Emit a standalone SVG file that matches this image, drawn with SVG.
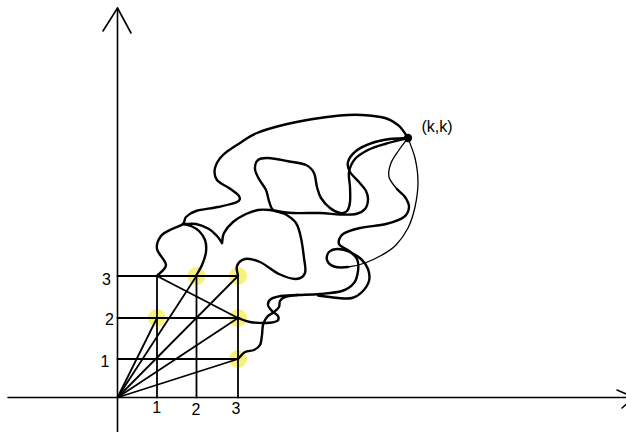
<svg xmlns="http://www.w3.org/2000/svg" width="626" height="432" viewBox="0 0 626 432">
<style>
.ax{stroke:#000;stroke-width:1.6;fill:none;stroke-linecap:round;stroke-linejoin:round}
.gr{stroke:#000;stroke-width:1.8;fill:none;stroke-linecap:round}
.cv{stroke:#000;stroke-width:2.4;fill:none;stroke-linecap:round;stroke-linejoin:round}
.th{stroke:#000;stroke-width:1.3;fill:none;stroke-linecap:round}
.hl{fill:#f7f27c}
.lb{font-family:"Liberation Sans",Arial,sans-serif;font-size:16px;fill:#000}
</style>
<rect width="626" height="432" fill="#fff"/>
<g id="highlights">
<circle class="hl" cx="157" cy="318" r="9"/>
<circle class="hl" cx="196.5" cy="276" r="9"/>
<circle class="hl" cx="238" cy="276" r="9"/>
<circle class="hl" cx="238" cy="318" r="9"/>
<circle class="hl" cx="238" cy="359" r="9"/>
</g>
<g id="axes">
<line class="ax" x1="117.5" y1="432" x2="117.5" y2="8"/>
<polyline class="ax" points="103,31 117.5,8 131,33"/>
<line class="ax" x1="8" y1="397.5" x2="626" y2="397.5"/>
<polyline class="ax" points="617,390 634,397.5 622,408"/>
</g>
<g id="grid">
<line class="gr" x1="117.5" y1="276" x2="238" y2="276"/>
<line class="gr" x1="117.5" y1="318" x2="238" y2="318"/>
<line class="gr" x1="117.5" y1="359" x2="238" y2="359"/>
<line class="gr" x1="157" y1="276" x2="157" y2="397.5"/>
<line class="gr" x1="196.5" y1="276" x2="196.5" y2="397.5"/>
<line class="gr" x1="238" y1="276" x2="238" y2="397.5"/>
</g>
<g id="rays">
<line class="gr" x1="117.5" y1="397.5" x2="157" y2="318"/>
<line class="gr" x1="117.5" y1="397.5" x2="196.5" y2="276"/>
<line class="gr" x1="117.5" y1="397.5" x2="238" y2="276"/>
<line class="gr" x1="117.5" y1="397.5" x2="238" y2="318"/>
<line class="gr" x1="117.5" y1="397.5" x2="238" y2="359"/>
<line class="gr" x1="157" y1="276" x2="238" y2="318"/>
</g>
<g id="paths">
<path class="cv" d="M157,276 C160,272.3 166,269.5 166,265 C166,260.5 157.8,253.8 157,249 C156.2,244.2 158.5,239.3 161,236 C163.5,232.7 168.3,231 172,229 C175.7,227 180.7,226 183,224 C185.3,222 183.8,219.2 186,217 C188.2,214.8 190.7,212.7 196,211 C201.3,209.3 211.2,208.5 218,207 C224.8,205.5 233.5,203.8 237,202 C240.5,200.2 240.3,198.3 239,196 C237.7,193.7 232.7,190.7 229,188 C225.3,185.3 219.3,183.3 217,180 C214.7,176.7 214,172.2 215,168 C216,163.8 218.8,159.2 223,155 C227.2,150.8 234.3,146.7 240,143 C245.7,139.3 249.8,136 257,133 C264.2,130 273.7,127.3 283,125 C292.3,122.7 303.5,120.6 313,119 C322.5,117.4 331.8,116.2 340,115.5 C348.2,114.8 354.5,114.6 362,115 C369.5,115.4 379,116.3 385,118 C391,119.7 394.8,122.7 398,125 C401.2,127.3 402.3,129.8 404,132 C405.7,134.2 406.7,136 408,138"/>
<path class="cv" d="M196,276 C198,272.3 200.3,269 202,265 C203.7,261 205.5,256.2 206,252 C206.5,247.8 206.2,243.5 205,240 C203.8,236.5 201.3,233.3 199,231 C196.7,228.7 193.7,227.2 191,226 C188.3,224.8 185.7,224.7 183,224"/>
<path class="cv" d="M183,224 C187.3,224 191.7,223.2 196,224 C200.3,224.8 205.5,227 209,229 C212.5,231 214.8,233.7 217,236 C219.2,238.3 220.3,240.7 222,243"/>
<path class="cv" d="M222,243 C222.7,239.7 222.2,236.5 224,233 C225.8,229.5 229.3,225.2 233,222 C236.7,218.8 241.8,216 246,214 C250.2,212 254,210.7 258,210 C262,209.3 264.3,209.5 270,210 C275.7,210.5 283.7,212.5 292,213 C300.3,213.5 312,212.75 320,213 C328,213.25 334,214.3 340,214.5 C346,214.7 351.8,214.9 356,214 C360.2,213.1 363,211.3 365,209 C367,206.7 367.8,203 368,200 C368.2,197 367.5,194 366,191 C364.5,188 361.7,185.2 359,182 C356.3,178.8 351.8,175.3 350,172 C348.2,168.7 347,165.5 348,162 C349,158.5 352,154.2 356,151 C360,147.8 366.3,145 372,143 C377.7,141 384,139.8 390,139 C396,138.2 402,138.3 408,138"/>
<path class="cv" d="M238,276 C237.7,272.7 235.8,268.8 237,266 C238.2,263.2 241.2,259.7 245,259 C248.8,258.3 254.3,259.5 260,262 C265.7,264.5 273,271.2 279,274 C285,276.8 291.7,279.2 296,279 C300.3,278.8 303.7,276.5 305,273 C306.3,269.5 304.7,263.8 304,258 C303.3,252.2 302.3,243.8 301,238 C299.7,232.2 298.7,227 296,223 C293.3,219 288.8,216.2 285,214 C281.2,211.8 275.7,212.2 273,210 C270.3,207.8 270.2,204.3 269,201 C267.8,197.7 267.7,193.7 266,190 C264.3,186.3 260.8,182.5 259,179 C257.2,175.5 255.2,172.2 255,169 C254.8,165.8 255.8,161.8 258,160 C260.2,158.2 263.2,157.8 268,158 C272.8,158.2 280.7,159.8 287,161 C293.3,162.2 301.5,163 306,165 C310.5,167 312.2,169.3 314,173 C315.8,176.7 315.8,182.8 317,187 C318.2,191.2 318.8,194.5 321,198 C323.2,201.5 326.8,205.5 330,208 C333.2,210.5 337.2,212.5 340,213 C342.8,213.5 345.3,212.8 347,211 C348.7,209.2 349.5,206 350,202 C350.5,198 350.2,192 350,187 C349.8,182 348.2,176.7 349,172 C349.8,167.3 351.8,162.7 355,159 C358.2,155.3 363,152.5 368,150 C373,147.5 378.3,146 385,144 C391.7,142 400.3,140 408,138"/>
<path class="cv" d="M238,318 C242,319.3 245.3,321.2 250,322 C254.7,322.8 261.5,323.2 266,323 C270.5,322.8 275,322.2 277,321 C279,319.8 278.8,317.7 278,316 C277.2,314.3 273.7,312.8 272,311 C270.3,309.2 268.2,307 268,305 C267.8,303 268.8,300.5 271,299 C273.2,297.5 276.5,296.7 281,296 C285.5,295.3 291.5,295.3 298,295 C304.5,294.7 312.7,294.7 320,294 C327.3,293.3 336.3,292.8 342,291 C347.7,289.2 351.3,286.3 354,283 C356.7,279.7 357.5,275 358,271 C358.5,267 358.5,262.3 357,259 C355.5,255.7 352,253.5 349,251 C346,248.5 340,246.8 339,244 C338,241.2 339.5,236.7 343,234 C346.5,231.3 352.8,229.7 360,228 C367.2,226.3 378.7,225.8 386,224 C393.3,222.2 400.2,219.8 404,217 C407.8,214.2 408.8,210.3 409,207 C409.2,203.7 407,200 405,197 C403,194 399.7,192.3 397,189"/>
<path class="th" d="M397,189 C394.3,185.7 390,181.3 389,177 C388,172.7 389.3,167.5 391,163 C392.7,158.5 396.2,154.2 399,150 C401.8,145.8 405,142 408,138"/>
<path class="cv" d="M238,359 C240.3,356.7 242.3,353.5 245,352 C247.7,350.5 251.5,351.2 254,350 C256.5,348.8 258.7,347.5 260,345 C261.3,342.5 261.5,338.3 262,335 C262.5,331.7 262.2,328 263,325 C263.8,322 265.2,319.2 267,317 C268.8,314.8 272,313.7 274,312 C276,310.3 278,308.8 279,307 C280,305.2 279,302.7 280,301 C281,299.3 282,298 285,297 C288,296 291.5,295.3 298,295"/>
<path class="cv" d="M318,295.5 C324.7,296.3 332.3,297.6 338,298 C343.7,298.4 348,299 352,298 C356,297 359.2,294.8 362,292 C364.8,289.2 368,284.8 369,281 C370,277.2 369.3,272.7 368,269 C366.7,265.3 364,261.8 361,259 C358,256.2 353.8,253.7 350,252 C346.2,250.3 341.5,249 338,249 C334.5,249 330.8,250.2 329,252 C327.2,253.8 326.2,257.6 327,260 C327.8,262.4 330.5,265.3 334,266.5 C337.5,267.7 342.8,267.6 348,267"/>
<path class="th" d="M348,267 C353.2,266.4 359.3,265 365,263 C370.7,261 376.8,258 382,255 C387.2,252 391.7,249.5 396,245 C400.3,240.5 404.8,234.3 408,228 C411.2,221.7 413.3,214.7 415,207 C416.7,199.3 418,190.2 418,182 C418,173.8 416.7,165.3 415,158 C413.3,150.7 410.3,144.7 408,138"/>
</g>
<g id="kk">
<circle cx="408" cy="138" r="4.2" fill="#000"/>
<text class="lb" x="421.5" y="132">(k,k)</text>
</g>
<g id="labels">
<text class="lb" x="106.5" y="285" text-anchor="middle">3</text>
<text class="lb" x="109.5" y="325" text-anchor="middle">2</text>
<text class="lb" x="105" y="366.5" text-anchor="middle">1</text>
<text class="lb" x="156.7" y="413" text-anchor="middle">1</text>
<text class="lb" x="196" y="415" text-anchor="middle">2</text>
<text class="lb" x="236" y="414" text-anchor="middle">3</text>
</g>
</svg>
